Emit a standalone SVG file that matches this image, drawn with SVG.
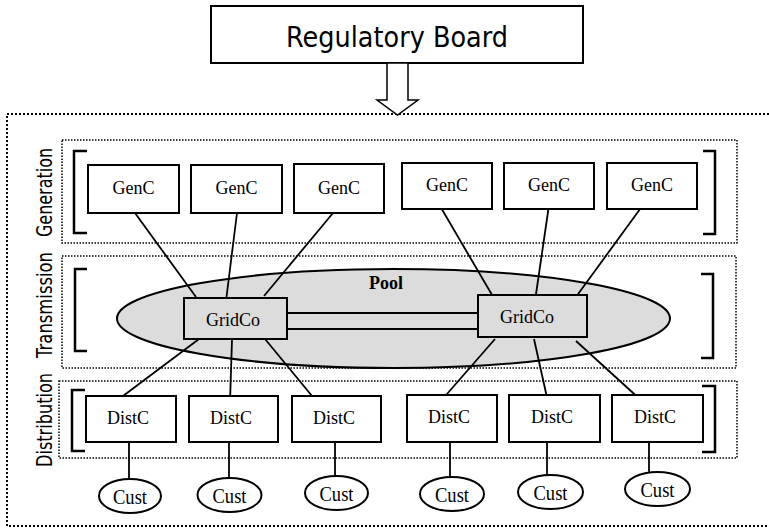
<svg xmlns="http://www.w3.org/2000/svg" width="769" height="531" viewBox="0 0 769 531">
<style>
.box{fill:#fff;stroke:#000;stroke-width:2}
.grid{fill:#dcdcdc;stroke:#000;stroke-width:2}
.cust{fill:#fff;stroke:#000;stroke-width:2}
.dot{fill:none;stroke:#000;stroke-width:1.5;stroke-dasharray:1.5 1.5}
.outer{fill:none;stroke:#000;stroke-width:2;stroke-dasharray:2 2}
.br{fill:none;stroke:#000;stroke-width:2.5}
.ln{stroke:#000;stroke-width:1.8;fill:none}
.t{font-family:"Liberation Serif","Times New Roman",serif;font-size:18px;text-anchor:middle;fill:#000}
.c{font-family:"Liberation Serif","Times New Roman",serif;font-size:21px;text-anchor:middle;fill:#000}
.s{font-family:"DejaVu Sans","Liberation Sans",sans-serif;font-size:22px;text-anchor:middle;fill:#000}
</style>
<rect width="769" height="531" fill="#fff"/>
<g id="frame">
<rect class="outer" x="7" y="114" width="770" height="412"/>
<rect class="dot" x="62" y="140" width="675" height="103"/>
<rect class="dot" x="62" y="256" width="674" height="112"/>
<rect class="dot" x="59" y="381" width="678" height="77"/>
<path class="br" d="M87,151 H74 V233 H87"/>
<path class="br" d="M703,151 H715 V234 H703"/>
<path class="br" d="M87,269 H75 V351 H87"/>
<path class="br" d="M701,274 H713 V358 H701"/>
<path class="br" d="M85,390 H72 V451 H85"/>
<path class="br" d="M702,386 H715 V452 H702"/>
<text class="s" transform="translate(52,192.5) rotate(-90)" textLength="89" lengthAdjust="spacingAndGlyphs">Generation</text>
<text class="s" transform="translate(52,305) rotate(-90)" textLength="106" lengthAdjust="spacingAndGlyphs">Transmission</text>
<text class="s" transform="translate(52,420) rotate(-90)" textLength="94" lengthAdjust="spacingAndGlyphs">Distribution</text>
</g>
<g id="regulatory-board">
<rect class="box" x="211" y="6" width="372" height="57"/>
<text x="397" y="47" font-family="DejaVu Sans, Liberation Sans, sans-serif" font-size="29" text-anchor="middle" textLength="222" lengthAdjust="spacingAndGlyphs">Regulatory Board</text>
</g>
<g id="reg-arrow">
<polygon points="387,63 408,63 408,100 418,100 397.5,115 377,100 387,100" fill="#fff" stroke="#000" stroke-width="1.5"/>
</g>
<g id="pool">
<ellipse cx="393.5" cy="318.5" rx="276.5" ry="49.5" fill="#dcdcdc" stroke="#000" stroke-width="2"/>
<text class="t" x="386" y="289" font-weight="bold">Pool</text>
</g>
<g id="connectors">
<line class="ln" x1="135" y1="213" x2="196" y2="297"/>
<line class="ln" x1="237" y1="213" x2="226" y2="301"/>
<line class="ln" x1="333" y1="213" x2="264" y2="296"/>
<line class="ln" x1="440" y1="206" x2="495" y2="300"/>
<line class="ln" x1="549" y1="205" x2="535" y2="301"/>
<line class="ln" x1="643" y1="205" x2="573" y2="301"/>
<line class="ln" x1="199" y1="339" x2="115" y2="402"/>
<line class="ln" x1="232" y1="340" x2="230" y2="402"/>
<line class="ln" x1="265" y1="339" x2="317" y2="402"/>
<line class="ln" x1="495" y1="339" x2="440" y2="402"/>
<line class="ln" x1="534" y1="339" x2="548" y2="402"/>
<line class="ln" x1="576" y1="341" x2="643" y2="402"/>
<line class="ln" x1="283" y1="313" x2="486" y2="313"/>
<line class="ln" x1="283" y1="329" x2="486" y2="329"/>
<line class="ln" x1="129" y1="442" x2="129" y2="479"/>
<line class="ln" x1="229" y1="442" x2="229" y2="478"/>
<line class="ln" x1="335" y1="442" x2="335" y2="476"/>
<line class="ln" x1="450" y1="442" x2="450" y2="477"/>
<line class="ln" x1="547" y1="442" x2="547" y2="475"/>
<line class="ln" x1="649" y1="442" x2="649" y2="472"/>
</g>
<g id="genc1"><rect class="box" x="88" y="165" width="91" height="48"/><text class="t" x="133.5" y="194">GenC</text></g>
<g id="genc2"><rect class="box" x="191" y="165" width="91" height="48"/><text class="t" x="236.5" y="194">GenC</text></g>
<g id="genc3"><rect class="box" x="294" y="164" width="90" height="49"/><text class="t" x="339" y="194">GenC</text></g>
<g id="genc4"><rect class="box" x="402" y="163" width="90" height="46"/><text class="t" x="447" y="191">GenC</text></g>
<g id="genc5"><rect class="box" x="504" y="163" width="90" height="46"/><text class="t" x="549" y="191">GenC</text></g>
<g id="genc6"><rect class="box" x="607" y="163" width="90" height="46"/><text class="t" x="652" y="191">GenC</text></g>
<g id="gridco1"><rect class="grid" x="184" y="298" width="103" height="41"/><text class="t" x="233" y="326">GridCo</text></g>
<g id="gridco2"><rect class="grid" x="478" y="295" width="109" height="42"/><text class="t" x="527" y="323">GridCo</text></g>
<g id="distc1"><rect class="box" x="86" y="396" width="90" height="46"/><text class="t" x="128" y="424">DistC</text></g>
<g id="distc2"><rect class="box" x="189" y="396" width="89" height="46"/><text class="t" x="231" y="424">DistC</text></g>
<g id="distc3"><rect class="box" x="292" y="396" width="89" height="46"/><text class="t" x="334" y="424">DistC</text></g>
<g id="distc4"><rect class="box" x="407" y="395" width="90" height="47"/><text class="t" x="449" y="423">DistC</text></g>
<g id="distc5"><rect class="box" x="509" y="395" width="91" height="47"/><text class="t" x="552" y="423">DistC</text></g>
<g id="distc6"><rect class="box" x="612" y="395" width="91" height="47"/><text class="t" x="655" y="423">DistC</text></g>
<g id="cust1"><ellipse class="cust" cx="130" cy="496" rx="31" ry="17"/><text class="c" x="130" y="503.5" textLength="34" lengthAdjust="spacingAndGlyphs">Cust</text></g>
<g id="cust2"><ellipse class="cust" cx="229.5" cy="495" rx="32" ry="17"/><text class="c" x="229.5" y="502.5" textLength="34" lengthAdjust="spacingAndGlyphs">Cust</text></g>
<g id="cust3"><ellipse class="cust" cx="336.5" cy="493" rx="31.5" ry="17"/><text class="c" x="336.5" y="500.5" textLength="34" lengthAdjust="spacingAndGlyphs">Cust</text></g>
<g id="cust4"><ellipse class="cust" cx="452" cy="494" rx="32" ry="17"/><text class="c" x="452" y="501.5" textLength="34" lengthAdjust="spacingAndGlyphs">Cust</text></g>
<g id="cust5"><ellipse class="cust" cx="550.5" cy="492" rx="32.5" ry="17"/><text class="c" x="550.5" y="499.5" textLength="34" lengthAdjust="spacingAndGlyphs">Cust</text></g>
<g id="cust6"><ellipse class="cust" cx="657.5" cy="489" rx="32.5" ry="17"/><text class="c" x="657.5" y="496.5" textLength="34" lengthAdjust="spacingAndGlyphs">Cust</text></g>
</svg>
